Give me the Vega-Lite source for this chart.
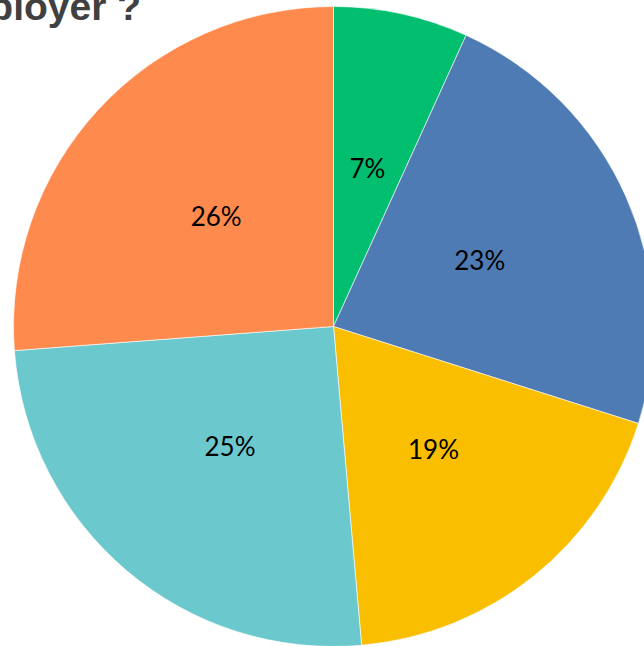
{
  "$schema": "https://vega.github.io/schema/vega-lite/v6.json",
  "width": 667,
  "height": 653,
  "padding": 0,
  "autosize": {"type": "none"},
  "background": "white",
  "title": {
    "text": "employer ?",
    "anchor": "start",
    "frame": "group",
    "orient": "top",
    "font": "Liberation Sans",
    "fontSize": 39,
    "fontWeight": "bold",
    "color": "#404040",
    "baseline": "alphabetic",
    "offset": 0,
    "dx": -67,
    "dy": 59
  },
  "data": {
    "values": [
      {"k": 1, "label": "7%", "value": 6.8},
      {"k": 2, "label": "23%", "value": 23.1},
      {"k": 3, "label": "19%", "value": 18.7},
      {"k": 4, "label": "25%", "value": 25.2},
      {"k": 5, "label": "26%", "value": 26.2}
    ]
  },
  "encoding": {
    "theta": {"field": "value", "type": "quantitative", "stack": true},
    "order": {"field": "k", "type": "quantitative"}
  },
  "layer": [
    {
      "mark": {"type": "arc", "radius": 320, "stroke": "white", "strokeWidth": 0.6},
      "encoding": {
        "color": {
          "field": "label",
          "type": "nominal",
          "scale": {
            "domain": ["7%", "23%", "19%", "25%", "26%"],
            "range": ["#02BF6F", "#4F7BB4", "#F9BE00", "#6BC8CC", "#FF8A4E"]
          },
          "legend": null
        }
      }
    },
    {
      "mark": {"type": "text", "radius": 160, "font": "Lato", "fontSize": 26, "color": "black", "baseline": "middle", "align": "center"},
      "encoding": {
        "text": {"field": "label", "type": "nominal"}
      }
    }
  ]
}
